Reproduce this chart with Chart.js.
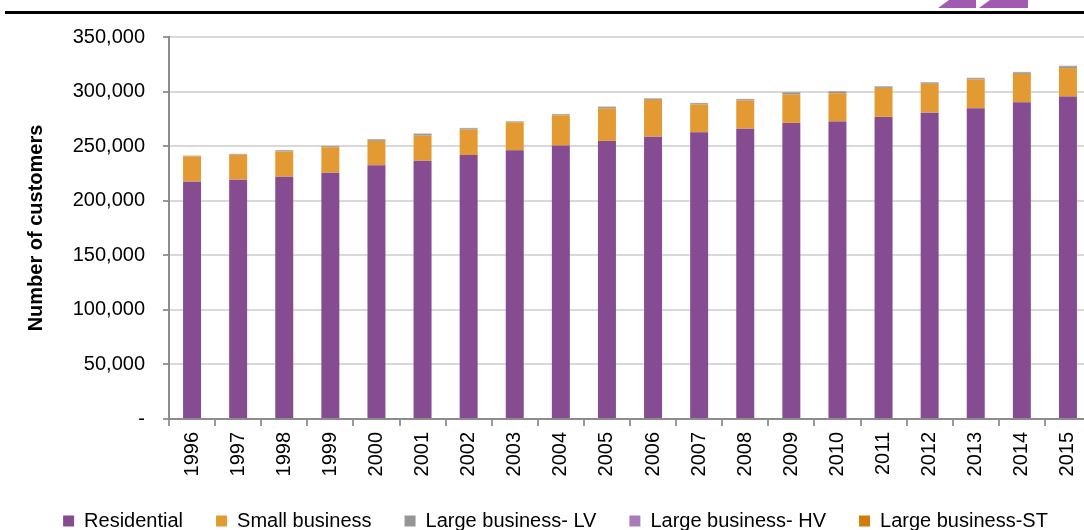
<!DOCTYPE html>
<html>
<head>
<meta charset="utf-8">
<script src="https://cdn.jsdelivr.net/npm/chart.js@4"></script>
<style>
  html, body { margin: 0; padding: 0; background: #fff; overflow: hidden; }
  #wrap { position: absolute; left: 0; top: 0; width: 1100px; height: 530px; }
</style>
</head>
<body>
<div id="wrap"><canvas id="custChart" width="1100" height="530"></canvas></div>
<script>
// years on the x axis
const years = ['1996', '1997', '1998', '1999', '2000', '2001', '2002', '2003', '2004', '2005',
               '2006', '2007', '2008', '2009', '2010', '2011', '2012', '2013', '2014', '2015'];

// customer counts per group
const residential = [217400, 219300, 222000, 225700, 232500, 236700, 241900, 246200, 250500, 254800,
                     258700, 262700, 266000, 271300, 272500, 276800, 280700, 284800, 290300, 295400];
const smallBusiness = [23000, 22700, 23000, 23300, 22300, 22900, 23200, 25700, 27800, 29600,
                       33700, 25400, 25700, 25900, 26000, 26600, 26400, 26200, 25900, 26100];
const largeLV = [500, 500, 1000, 800, 1300, 1500, 1200, 600, 800, 1400,
                 1100, 1200, 1300, 1800, 1500, 1200, 1200, 1300, 1400, 1700];
const largeHV = [200, 200, 300, 200, 200, 200, 200, 200, 200, 200,
                 200, 200, 200, 200, 200, 200, 200, 200, 200, 200];
const largeST = [200, 200, 200, 200, 200, 200, 200, 100, 200, 200,
                 200, 100, 100, 200, 200, 100, 100, 100, 200, 200];

const yTicks = [0, 50000, 100000, 150000, 200000, 250000, 300000, 350000];

const FONT = "'Liberation Sans', Arial, sans-serif";

// black rule and logo bits at the top of the page
const headerDeco = {
  id: 'headerDeco',
  afterDraw(chart) {
    const ctx = chart.ctx;
    ctx.save();
    ctx.fillStyle = '#000';
    ctx.fillRect(5, 11, 1095, 3);
    ctx.fillStyle = '#a05aaf';
    ctx.beginPath();
    ctx.moveTo(938, 8); ctx.lineTo(949, 0); ctx.lineTo(976, 0); ctx.lineTo(976, 8);
    ctx.closePath(); ctx.fill();
    ctx.beginPath();
    ctx.moveTo(979, 8); ctx.lineTo(990, 0); ctx.lineTo(1028, 0); ctx.lineTo(1028, 8);
    ctx.closePath(); ctx.fill();
    ctx.restore();
  }
};

const data = {
  labels: years,
  datasets: [
    { label: 'Residential', data: residential, backgroundColor: '#854c92' },
    { label: 'Small business', data: smallBusiness, backgroundColor: '#e39a33' },
    { label: 'Large business- LV', data: largeLV, backgroundColor: '#969696' },
    { label: 'Large business- HV', data: largeHV, backgroundColor: '#a87cba' },
    { label: 'Large business-ST', data: largeST, backgroundColor: '#d07c0c' }
  ]
};

const config = {
  type: 'bar',
  data,
  options: {
    responsive: false,
    animation: false,
    devicePixelRatio: 1,
    datasets: { bar: { categoryPercentage: 1, barPercentage: 0.39, borderWidth: 0 } },
    layout: { padding: { left: 20, right: 9, top: 37, bottom: -11 } },
    scales: {
      x: {
        stacked: true,
        grid: { drawOnChartArea: false, offset: true, tickLength: 7, color: '#999', lineWidth: 2 },
        border: { color: '#8c8c8c', width: 2 },
        ticks: { minRotation: 90, maxRotation: 90, color: '#000', padding: 6, font: { family: FONT, size: 20 } },
        afterFit(scale) { scale.height = 59; }
      },
      y: {
        stacked: true,
        min: 0,
        max: 350000,
        afterBuildTicks(scale) { scale.ticks = yTicks.map(v => ({ value: v })); },
        grid: { color: '#d9d9d9', lineWidth: 2, tickLength: 6, tickColor: '#999' },
        border: { color: '#8c8c8c', width: 2 },
        ticks: {
          color: '#000',
          padding: 18,
          font: { family: FONT, size: 20 },
          callback: function(value) {
            return value === 0 ? '-' : value.toLocaleString('en-US');
          }
        },
        title: {
          display: true,
          text: 'Number of customers',
          color: '#000',
          padding: { top: 4, bottom: 0 },
          font: { family: FONT, size: 20, weight: 'bold' }
        },
        afterFit(scale) { scale.width = 149; }
      }
    },
    plugins: {
      legend: {
        position: 'bottom',
        labels: {
          color: '#000',
          boxWidth: 11,
          boxHeight: 11,
          padding: 33,
          font: { family: FONT, size: 20 }
        }
      },
      tooltip: { enabled: false }
    }
  },
  plugins: [headerDeco]
};

const custChart = new Chart(document.getElementById('custChart'), config);
</script>
</body>
</html>
